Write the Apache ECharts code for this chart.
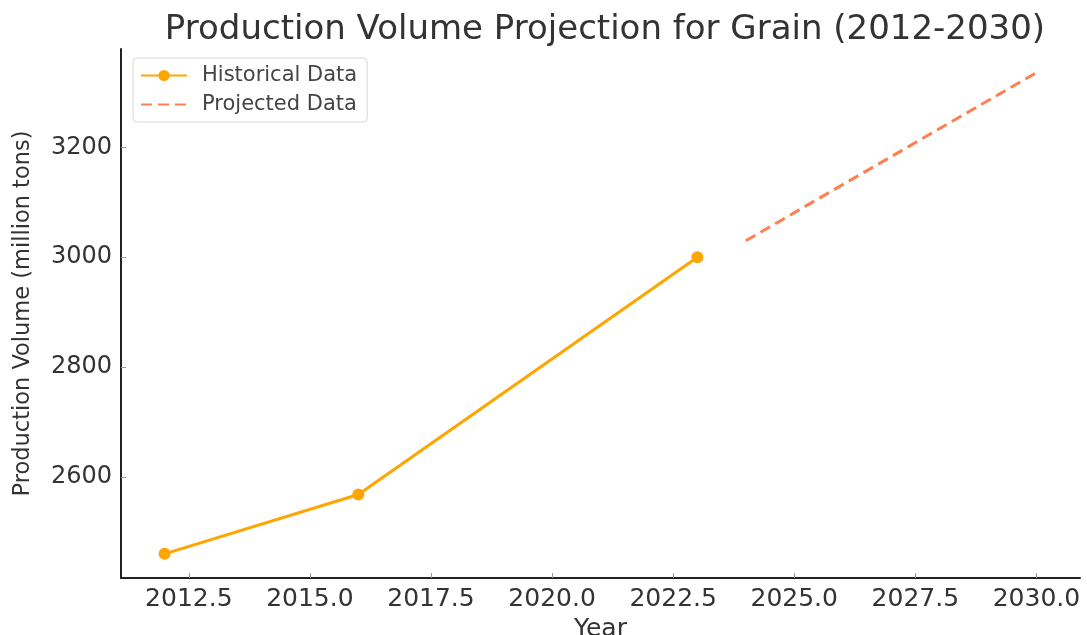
<!DOCTYPE html>
<html>
<head>
<meta charset="utf-8">
<script src="https://cdn.jsdelivr.net/npm/echarts@6/dist/echarts.min.js"></script>
<style>html,body{margin:0;padding:0;background:#fff}#c{width:1087px;height:635px}</style>
</head>
<body>
<div id="c"></div>
<script>
const histYears = [2012, 2016, 2023];
const histValues = [2460, 2568, 3000];
const projYears = [2024, 2030];
const projValues = [3030, 3336];
const xTicks = [2012.5, 2015.0, 2017.5, 2020.0, 2022.5, 2025.0, 2027.5, 2030.0];
const yTicks = [2600, 2800, 3000, 3200];

const chart = echarts.init(document.getElementById('c'));
const font = 'DejaVu Sans';
chart.setOption({
  animation: false,
  backgroundColor: '#fff',
  title: {
    text: 'Production Volume Projection for Grain (2012-2030)',
    left: 600, top: 8, textAlign: 'center',
    textStyle: { fontFamily: font, fontSize: 34, fontWeight: 'normal', color: '#333' }
  },
  legend: {
    orient: 'vertical', left: 133, top: 58,
    padding: [7, 10, 7, 7], itemGap: 8, itemWidth: 46, itemHeight: 14,
    borderColor: '#d8d8d8', borderWidth: 1, borderRadius: 4,
    textStyle: { fontFamily: font, fontSize: 21, color: '#444', padding: [0, 0, 0, 10] },
    data: [
      { name: 'Historical Data' },
      { name: 'Projected Data', itemStyle: { color: 'rgba(0,0,0,0)', borderWidth: 0 } }
    ]
  },
  grid: { left: 121, right: 7, top: 49, bottom: 57, containLabel: false, outerBoundsMode: 'none' },
  xAxis: {
    type: 'value', min: 2011.1, max: 2030.9,
    name: 'Year', nameLocation: 'middle', nameGap: 37,
    nameTextStyle: { fontFamily: font, fontSize: 25, color: '#333' },
    axisLine: { show: true, lineStyle: { color: '#222', width: 2 } },
    axisTick: { show: true, inside: true, length: 5, customValues: xTicks, lineStyle: { color: '#999' } },
    axisLabel: { customValues: xTicks, margin: 9, fontFamily: font, fontSize: 25, color: '#333',
      formatter: v => v.toFixed(1) },
    splitLine: { show: false }
  },
  yAxis: {
    type: 'value', min: 2416, max: 3379,
    name: 'Production Volume (million tons)', nameLocation: 'middle', nameGap: 86,
    nameTextStyle: { fontFamily: font, fontSize: 22.5, color: '#333' },
    axisLine: { show: true, lineStyle: { color: '#222', width: 2 } },
    axisTick: { show: true, inside: true, length: 5, customValues: yTicks, lineStyle: { color: '#999' } },
    axisLabel: { customValues: yTicks, margin: 9, fontFamily: font, fontSize: 24, color: '#333',
      formatter: v => String(v) },
    splitLine: { show: false }
  },
  series: [
    {
      name: 'Historical Data', type: 'line',
      data: histYears.map((y, i) => [y, histValues[i]]),
      symbol: 'circle', symbolSize: 12, showSymbol: true,
      itemStyle: { color: '#FFA500' },
      lineStyle: { color: '#FFA500', width: 3 }
    },
    {
      name: 'Projected Data', type: 'line',
      data: projYears.map((y, i) => [y, projValues[i]]),
      symbol: 'none', showSymbol: false,
      itemStyle: { color: '#FF7F50' },
      lineStyle: { color: '#FF7F50', width: 3, type: [11, 6] }
    }
  ]
});
</script>
</body>
</html>
